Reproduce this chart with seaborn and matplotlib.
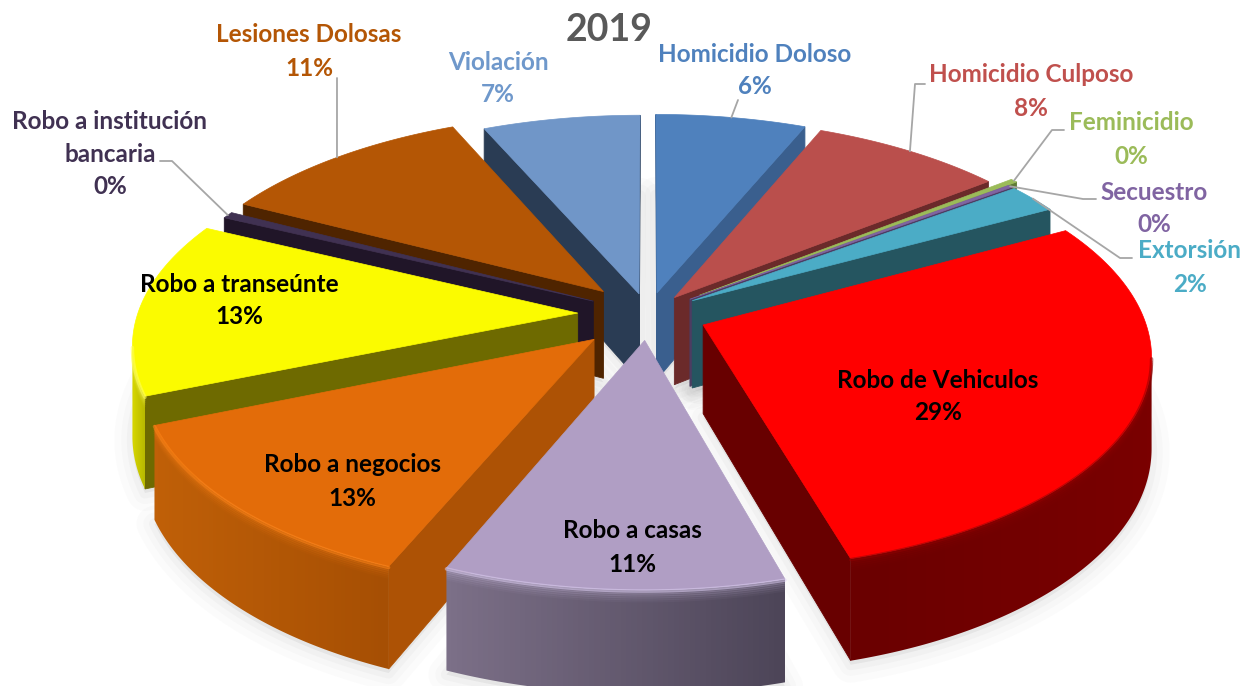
import numpy as np
import matplotlib
matplotlib.use('Agg')
import matplotlib.pyplot as plt
from matplotlib.patches import Polygon
import seaborn as sns

# Slices, clockwise from 12 o'clock
CATEGORIES = ['Homicidio Doloso', 'Homicidio Culposo', 'Feminicidio', 'Secuestro', 'Extorsión',
              'Robo de Vehiculos', 'Robo a casas', 'Robo a negocios', 'Robo a transeúnte',
              'Robo a institución\nbancaria', 'Lesiones Dolosas', 'Violación']
VALUES = [6.3, 8.1, 0.3, 0.2, 2.2, 28.5, 10.7, 12.5, 13.3, 0.5, 10.8, 6.6]
PERCENT_LABELS = ['6%', '8%', '0%', '0%', '2%', '29%', '11%', '13%', '13%', '0%', '11%', '7%']

TOP_COLORS = ['#4f81bd', '#ba4f4c', '#9bbb59', '#8064a2', '#4bacc6', '#ff0000',
              '#b09ec4', '#e36c09', '#fbfb00', '#403152', '#b45605', '#7096c8']
SIDE_COLORS = ['#3a5f8e', '#6b2a2a', '#5f7a35', '#4d3c62', '#255560', '#680000',
               '#7c7088', '#ad5205', '#6e6a00', '#201528', '#4f2400', '#2a3c54']
RIM_COLORS = [('#3a5f8e', '#3a5f8e'), ('#6b2a2a', '#6b2a2a'), ('#5f7a35', '#5f7a35'),
              ('#4d3c62', '#4d3c62'), ('#255560', '#255560'), ('#6a0000', '#7a0000'),
              ('#7c7088', '#4d4558'), ('#c06008', '#a64f04'), ('#d8d800', '#b8b800'),
              ('#201528', '#201528'), ('#4f2400', '#4f2400'), ('#2a3c54', '#2a3c54')]
BEVEL_COLORS = [None, None, None, None, None, '#900000', '#dccdf2', '#ff8418', '#ffff60',
                None, None, None]
TEXT_COLORS = ['#4f81bd', '#c0504d', '#9bbb59', '#8064a2', '#4bacc6', 'black',
               'black', 'black', 'black', '#403152', '#b45605', '#6f98cb']
EXPLODE = [0.105, 0.10, 0.15, 0.12, 0.12, 0.135, 0.125, 0.17, 0.16, 0.14, 0.15, 0.10]

# Label centres in pixels: (x, y of first line, y of the percent line)
LABEL_POS = [(755, 54, 87), (1031, 75, 108), (1131, 122, 156), (1154, 193, 225), (1190, 251, 284),
             (938, 380, 412), (632, 531, 564), (352, 465, 498), (239, 285, 317),
             (110, 138, 187), (309, 35, 68), (498, 62, 95)]
# Leader elbows, None when the label has no leader
LEADERS = [[(738, 100)], [(915, 84), (925, 84)], [(1052, 130), (1064, 130)],
           [(1083, 199), (1096, 199)], [(1120, 258), (1132, 258)],
           None, None, None, None, [(172, 161), (160, 161)], [(337, 78)], None]

CX, CY = 648, 314
RX, RY = 440, 208
PERSP = 0.1356
DEPTH = 88


def project(u, v):
    s = 1 / (1 - PERSP * v)
    return CX + RX * u * s, CY + RY * v * s, DEPTH * s


def wedge_outline(t0, t1, explode):
    mid = (t0 + t1) / 2
    du, dv = explode * np.sin(mid), -explode * np.cos(mid)
    n = max(3, int(np.degrees(t1 - t0) * 2))
    ts = np.linspace(t0, t1, n)
    us = np.r_[du, du + np.sin(ts)]
    vs = np.r_[dv, dv - np.cos(ts)]
    return project(us, vs)


def draw_shadow(ax, x, y, d):
    for lw, alpha in [(26, 0.02), (16, 0.025), (8, 0.03)]:
        ax.fill(x, y + d + 4, color='#555555', alpha=alpha, lw=lw, joinstyle='round', zorder=1)
    ax.fill(x, y + d * 0.5, color='#888888', alpha=0.12, lw=0, zorder=1)


def draw_wall_gradient(ax, x, y, d, i, z):
    # outer wall: only the part that faces the viewer, shaded left to right
    front = np.r_[np.diff(x[1:]) < 0, False]
    idx = np.flatnonzero(front)
    if len(idx) == 0:
        return
    idx = np.r_[idx, idx[-1] + 1]
    rx, ry, rd = x[1:][idx], y[1:][idx], d[1:][idx]
    verts = np.c_[np.r_[rx, rx[::-1]], np.r_[ry, (ry + rd)[::-1]]]
    pal = sns.blend_palette(RIM_COLORS[i], 64)
    img = ax.imshow(np.array(pal)[None, :, :], extent=(rx.min(), rx.max(), verts[:, 1].max(), verts[:, 1].min()),
                    aspect='auto', zorder=z)
    clip = Polygon(verts, transform=ax.transData, facecolor='none', edgecolor='none')
    ax.add_patch(clip)
    img.set_clip_path(clip)
    if BEVEL_COLORS[i] is not None:
        ax.plot(rx, ry + 1, color=BEVEL_COLORS[i], lw=2.5, alpha=0.55, solid_capstyle='round', zorder=z + 0.3)
        for off, alpha in [(3, 0.22), (5, 0.16), (7, 0.11), (9, 0.07), (11, 0.04)]:
            ax.plot(rx, ry + off, color=BEVEL_COLORS[i], lw=2, alpha=alpha, solid_capstyle='butt', zorder=z + 0.05)


def draw_wedge(ax, x, y, d, i, z):
    # the two radial cuts, drawn when they face the viewer
    n = len(x)
    for a, b in [(0, 1), (n - 1, 0)]:
        if x[b] < x[a]:
            ax.fill([x[a], x[b], x[b], x[a]], [y[a], y[b], y[b] + d[b], y[a] + d[a]],
                    facecolor=SIDE_COLORS[i], edgecolor=SIDE_COLORS[i], lw=0.6, zorder=z)
    draw_wall_gradient(ax, x, y, d, i, z)
    ax.fill(x, y, facecolor=TOP_COLORS[i], edgecolor=TOP_COLORS[i], lw=0.5, zorder=z + 0.1)


def main():
    sns.set_theme(style='white')
    plt.rcParams['font.family'] = ['Lato', 'DejaVu Sans']

    fig, ax = plt.subplots(figsize=(12.45, 6.86), dpi=100)
    fig.subplots_adjust(0, 0, 1, 1)

    edges = np.r_[0, np.cumsum(VALUES)] / np.sum(VALUES) * 2 * np.pi
    shapes = [wedge_outline(edges[i], edges[i + 1], EXPLODE[i]) for i in range(len(VALUES))]

    for x, y, d in shapes:
        draw_shadow(ax, x, y, d)

    # painter's order, back of the pie first: apex and rim weighted like a centroid
    order = np.argsort([(s[1][0] + 2 * np.mean(s[1][1:])) / 3 for s in shapes])
    for rank, i in enumerate(order):
        x, y, d = shapes[i]
        draw_wedge(ax, x, y, d, i, 2 + rank)

    for i, name in enumerate(CATEGORIES):
        lx, ly, py = LABEL_POS[i]
        ax.text(lx, ly, name, color=TEXT_COLORS[i], fontsize=17.5, fontweight='bold',
                ha='center', va='center', linespacing=1.5, zorder=30)
        ax.text(lx, py, PERCENT_LABELS[i], color=TEXT_COLORS[i], fontsize=17.5, fontweight='bold',
                ha='center', va='center', zorder=30)
        if LEADERS[i] is not None:
            mid = (edges[i] + edges[i + 1]) / 2
            e = EXPLODE[i]
            sx, sy, _ = project((1 + e) * np.sin(mid), -(1 + e) * np.cos(mid))
            pts = [(sx, sy)] + LEADERS[i]
            ax.plot(*zip(*pts), color='#a6a6a6', lw=1.3, zorder=29)

    ax.text(609, 30, '2019', color='#595959', fontsize=27, fontweight='bold',
            ha='center', va='center', zorder=30)

    ax.set_xlim(0, 1245)
    ax.set_ylim(686, 0)
    ax.axis('off')

    fig.savefig('out.png', dpi=100, facecolor='white')
    plt.close(fig)


if __name__ == '__main__':
    main()
